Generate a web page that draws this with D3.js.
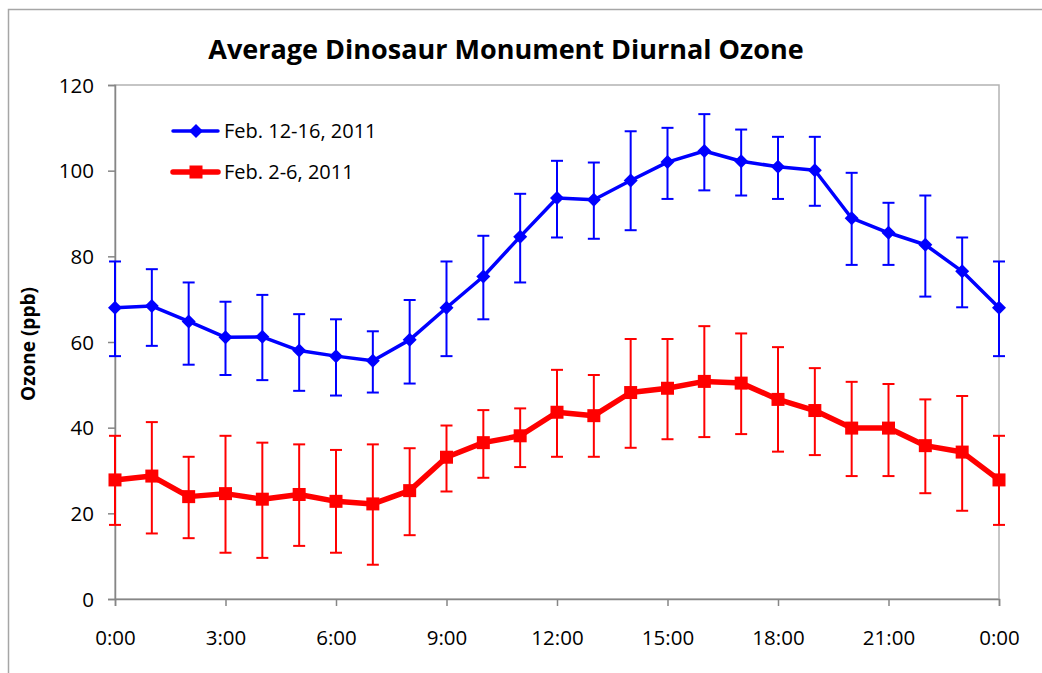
<!DOCTYPE html>
<html>
<head>
<meta charset="utf-8">
<script src="https://cdnjs.cloudflare.com/ajax/libs/d3/7.8.5/d3.min.js"></script>
<style>
  body { margin: 0; background: #fff; }
  svg { display: block; }
  text { font-family: "Open Sans", "Noto Sans", sans-serif; fill: #000; }
</style>
</head>
<body>
<svg width="1042" height="673"></svg>
<script>
// hours of the day, 0..24
var hours = d3.range(0, 25);
var xTickLabels = ["0:00", "3:00", "6:00", "9:00", "12:00", "15:00", "18:00", "21:00", "0:00"];
var yTicks = [0, 20, 40, 60, 80, 100, 120];

// Feb. 12-16, 2011
var febMid = [68, 68.4, 64.8, 61.1, 61.2, 58, 56.7, 55.6, 60.5, 68, 75.3, 84.6, 93.6, 93.2, 97.7,
              102, 104.6, 102.2, 100.9, 100.1, 88.9, 85.5, 82.7, 76.5, 68];
var febMidHi = [78.8, 77, 73.9, 69.4, 71, 66.5, 65.3, 62.5, 69.8, 78.8, 84.8, 94.6, 102.3, 101.9, 109.2,
                110, 113.2, 109.6, 107.9, 107.9, 99.5, 92.5, 94.2, 84.4, 78.8];
var febMidLo = [56.7, 59.1, 54.7, 52.3, 51.1, 48.6, 47.5, 48.2, 50.3, 56.7, 65.3, 73.9, 84.4, 84.1, 86.1,
                93.4, 95.4, 94.2, 93.4, 91.8, 78, 78, 70.6, 68.1, 56.7];

// Feb. 2-6, 2011
var febEarly = [27.8, 28.7, 23.9, 24.6, 23.3, 24.4, 22.8, 22.2, 25.3, 33.1, 36.5, 38.1, 43.6, 42.8, 48.2,
                49.2, 50.8, 50.4, 46.6, 44, 39.9, 39.9, 35.8, 34.3, 27.8];
var febEarlyHi = [38.1, 41.3, 33.2, 38.1, 36.5, 36.1, 34.8, 36.1, 35.2, 40.5, 44.1, 44.5, 53.5, 52.3, 60.7,
                  60.7, 63.7, 62, 58.8, 53.9, 50.7, 50.2, 46.6, 47.4, 38.1];
var febEarlyLo = [17.3, 15.3, 14.2, 10.8, 9.6, 12.4, 10.8, 8, 14.9, 25.1, 28.3, 30.8, 33.2, 33.2, 35.3,
                  37.3, 37.8, 38.5, 34.4, 33.6, 28.7, 28.7, 24.7, 20.6, 17.3];

var series = [
  { name: "Feb. 12-16, 2011", color: "#0000ff", values: febMid, hi: febMidHi, lo: febMidLo, marker: "diamond", width: 3.5 },
  { name: "Feb. 2-6, 2011", color: "#ff0000", values: febEarly, hi: febEarlyHi, lo: febEarlyLo, marker: "square", width: 5.5 }
];

var svg = d3.select("svg");
var margin = { left: 115, right: 43, top: 85, bottom: 74 };
var width = 1042, height = 673;

// outer chart frame
svg.append("rect")
    .attr("x", 8.5).attr("y", 9.5)
    .attr("width", 1100).attr("height", 700)
    .attr("fill", "#fff")
    .attr("stroke", "#a6a6a6")
    .attr("stroke-width", 1.5);

var x = d3.scaleLinear().domain([0, 24]).range([margin.left, width - margin.right]);
var y = d3.scaleLinear().domain([0, 120]).range([height - margin.bottom, margin.top]);

// plot area border (top/right)
svg.append("rect")
    .attr("x", x(0)).attr("y", y(120))
    .attr("width", x(24) - x(0)).attr("height", y(0) - y(120))
    .attr("fill", "none")
    .attr("stroke", "#b3b3b3")
    .attr("stroke-width", 1.5);

var xAxis = svg.append("g")
    .attr("transform", "translate(0," + y(0) + ")")
    .call(d3.axisBottom(x)
        .tickValues(d3.range(0, 25, 3))
        .tickSize(7)
        .tickPadding(24)
        .tickFormat(function(d, i) { return xTickLabels[i]; }));

var yAxis = svg.append("g")
    .attr("transform", "translate(" + x(0) + ",0)")
    .call(d3.axisLeft(y)
        .tickValues(yTicks)
        .tickSize(7)
        .tickPadding(14));

[xAxis, yAxis].forEach(function(ax) {
  ax.select(".domain").attr("stroke", "#868686").attr("stroke-width", 1.5);
  ax.selectAll(".tick line").attr("stroke", "#868686").attr("stroke-width", 1.5);
  ax.selectAll(".tick text")
      .style("font-family", "'Open Sans', sans-serif")
      .style("font-size", "20.5px")
      .attr("fill", "#000");
});
yAxis.selectAll(".tick text").attr("dy", "0.35em");

// title
svg.append("text")
    .attr("x", 506).attr("y", 59)
    .attr("text-anchor", "middle")
    .style("font-size", "27px")
    .style("font-weight", "bold")
    .text("Average Dinosaur Monument Diurnal Ozone");

// y-axis label
svg.append("text")
    .attr("transform", "translate(35,344) rotate(-90)")
    .attr("text-anchor", "middle")
    .style("font-size", "19px")
    .style("font-weight", "bold")
    .text("Ozone (ppb)");

var line = d3.line()
    .x(function(d, i) { return x(hours[i]); })
    .y(function(d) { return y(d); });

function drawMarker(g, type, color, cx, cy) {
  if (type === "diamond") {
    g.append("path")
        .attr("d", "M" + cx + "," + (cy - 7) + "L" + (cx + 7) + "," + cy + "L" + cx + "," + (cy + 7) + "L" + (cx - 7) + "," + cy + "Z")
        .attr("fill", color);
  } else {
    g.append("rect")
        .attr("x", cx - 6.5).attr("y", cy - 6.5)
        .attr("width", 13).attr("height", 13)
        .attr("fill", color);
  }
}

series.forEach(function(s) {
  var g = svg.append("g");

  // error bars
  var eb = g.selectAll(".err")
    .data(hours)
    .enter().append("g");
  eb.append("line")
      .attr("x1", function(d) { return x(d); })
      .attr("x2", function(d) { return x(d); })
      .attr("y1", function(d, i) { return y(s.hi[i]); })
      .attr("y2", function(d, i) { return y(s.lo[i]); })
      .attr("stroke", s.color).attr("stroke-width", 2);
  eb.append("line")
      .attr("x1", function(d) { return x(d) - 6; })
      .attr("x2", function(d) { return x(d) + 6; })
      .attr("y1", function(d, i) { return y(s.hi[i]); })
      .attr("y2", function(d, i) { return y(s.hi[i]); })
      .attr("stroke", s.color).attr("stroke-width", 2);
  eb.append("line")
      .attr("x1", function(d) { return x(d) - 6; })
      .attr("x2", function(d) { return x(d) + 6; })
      .attr("y1", function(d, i) { return y(s.lo[i]); })
      .attr("y2", function(d, i) { return y(s.lo[i]); })
      .attr("stroke", s.color).attr("stroke-width", 2);

  g.append("path")
      .datum(s.values)
      .attr("d", line)
      .attr("fill", "none")
      .attr("stroke", s.color)
      .attr("stroke-width", s.width)
      .attr("stroke-linejoin", "round");

  s.values.forEach(function(v, i) {
    drawMarker(g, s.marker, s.color, x(hours[i]), y(v));
  });
});

// legend
var legend = svg.append("g");
series.forEach(function(s, i) {
  var ly = 131 + i * 41;
  legend.append("line")
      .attr("x1", 173).attr("x2", 218)
      .attr("y1", ly).attr("y2", ly)
      .attr("stroke", s.color)
      .attr("stroke-width", s.width)
      .attr("stroke-linecap", "round");
  drawMarker(legend, s.marker, s.color, 196, ly);
  legend.append("text")
      .attr("x", 224).attr("y", ly)
      .attr("dy", "0.35em")
      .style("font-size", "20px")
      .text(s.name);
});
</script>
</body>
</html>
